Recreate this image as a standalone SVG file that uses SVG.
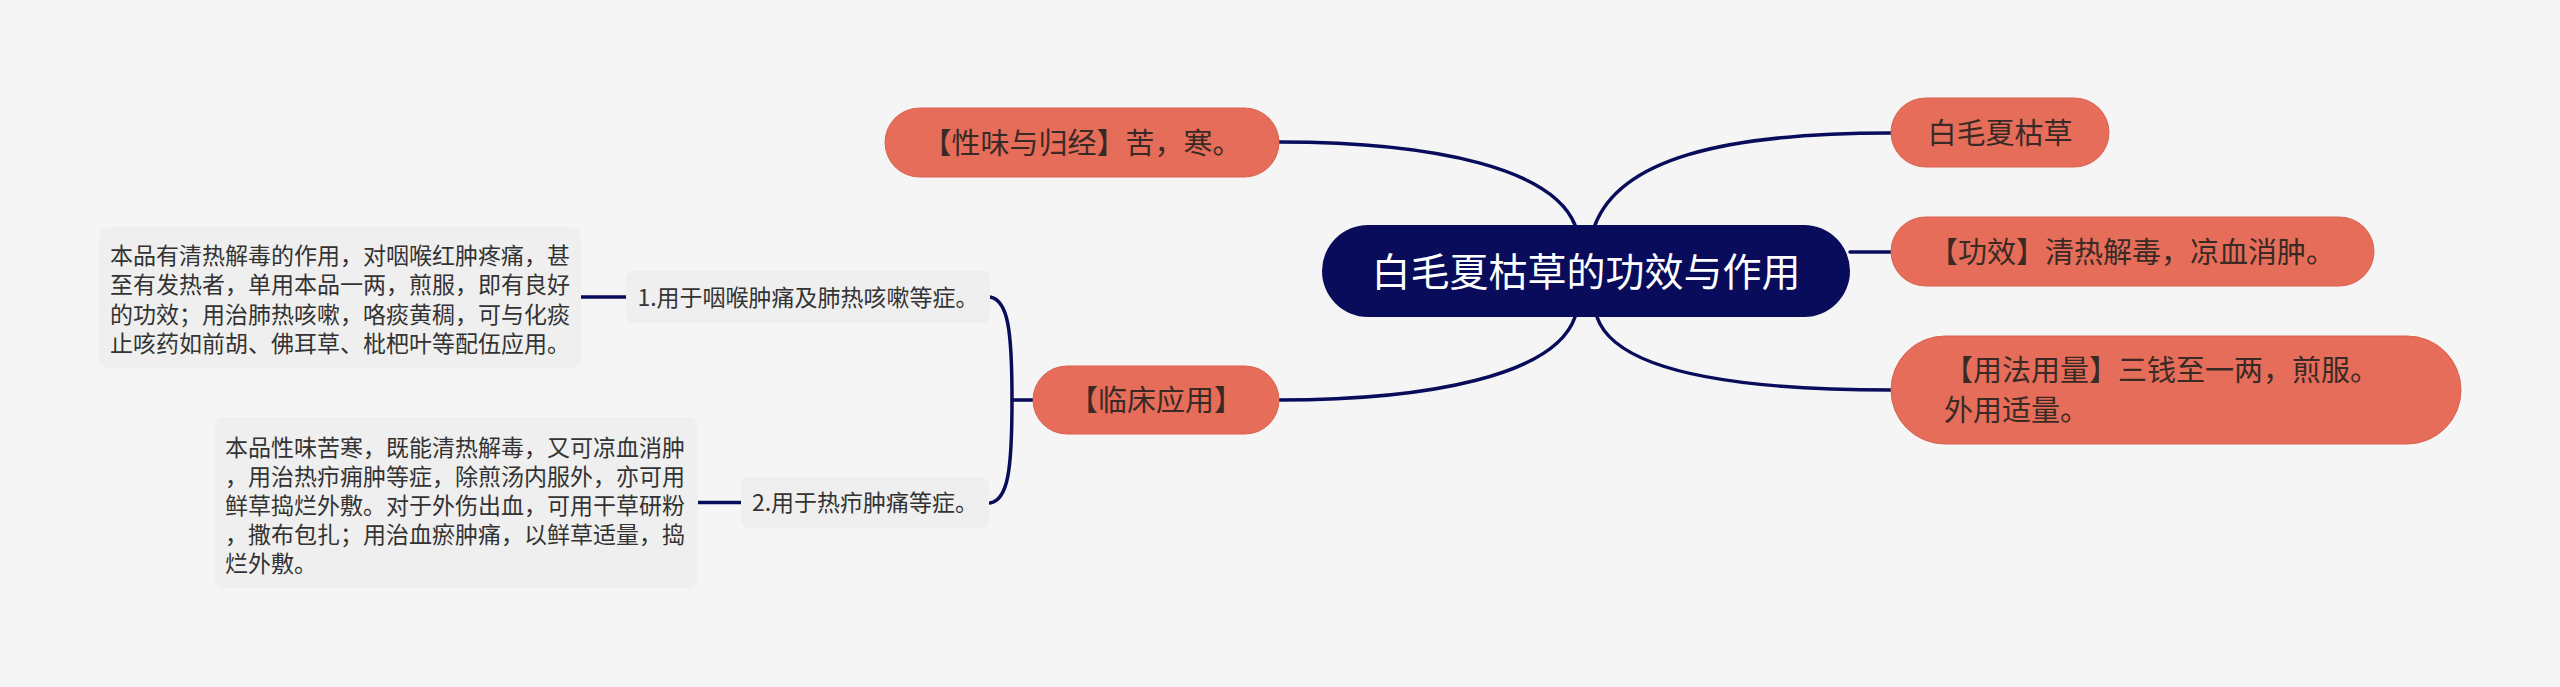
<svg xmlns="http://www.w3.org/2000/svg" width="2560" height="687" viewBox="0 0 2560 687">
<style>
.bg{fill:#f5f5f5}
.lk{fill:none;stroke:#080c5a;stroke-width:3.5;stroke-linecap:round}
.root{fill:#080c5a}
.l1{fill:#e56d59;stroke:#d9624e;stroke-width:1}
.box{fill:#efefef}
text{font-family:"Noto Sans CJK SC","Noto Sans",sans-serif}
.t0{font-size:39px;fill:#ffffff}
.t1{font-size:29px;fill:#3a2a26}
.t2{font-size:23px;fill:#333333}
</style>
<rect class="bg" x="0" y="0" width="2560" height="687"/>
<g id="connectors">
<path class="lk" d="M1575 225 C1553 170 1440 142 1279 142"/>
<path class="lk" d="M1595 225 C1620 160 1720 133 1891 133"/>
<path class="lk" d="M1850 252 L1891 252"/>
<path class="lk" d="M1597 317 C1615 370 1730 390 1891 390"/>
<path class="lk" d="M1575 317 C1555 375 1430 400 1279 400"/>
<path class="lk" d="M1033 400 L1012 400"/>
<path class="lk" d="M990 297 C1008 300 1012 330 1012 400 C1012 470 1008 500 990 503"/>
<path class="lk" d="M581 297 L626 297"/>
<path class="lk" d="M698 502.5 L741 502.5"/>
</g>
<g id="root">
<rect class="root" x="1322" y="225" width="528" height="92" rx="46"/>
<text class="t0" x="1586" y="285.8" text-anchor="middle">白毛夏枯草的功效与作用</text>
</g>
<g id="n-name">
<rect class="l1" x="1891" y="98" width="218" height="69" rx="34.5"/>
<text class="t1" x="2000" y="143.5" text-anchor="middle">白毛夏枯草</text>
</g>
<g id="n-effect">
<rect class="l1" x="1891" y="217" width="483" height="69" rx="34.5"/>
<text class="t1" x="2132" y="262.5" text-anchor="middle">【功效】清热解毒，凉血消肿。</text>
</g>
<g id="n-usage">
<rect class="l1" x="1891" y="336" width="570" height="108" rx="54"/>
<text class="t1" x="1944" y="381">【用法用量】三钱至一两，煎服。</text>
<text class="t1" x="1944" y="421">外用适量。</text>
</g>
<g id="n-nature">
<rect class="l1" x="885" y="108" width="394" height="69" rx="34.5"/>
<text class="t1" x="1082" y="153.5" text-anchor="middle">【性味与归经】苦，寒。</text>
</g>
<g id="n-clinical">
<rect class="l1" x="1033" y="366" width="246" height="68" rx="34"/>
<text class="t1" x="1156" y="411" text-anchor="middle">【临床应用】</text>
</g>
<g id="n-use1">
<rect class="box" x="626" y="271" width="364" height="52" rx="8"/>
<text class="t2" x="808" y="305.7" text-anchor="middle">1.用于咽喉肿痛及肺热咳嗽等症。</text>
</g>
<g id="n-use1-detail">
<rect class="box" x="99" y="227" width="482" height="141" rx="10"/>
<text class="t2" x="110" y="263.7">本品有清热解毒的作用，对咽喉红肿疼痛，甚</text>
<text class="t2" x="110" y="293.2">至有发热者，单用本品一两，煎服，即有良好</text>
<text class="t2" x="110" y="322.7">的功效；用治肺热咳嗽，咯痰黄稠，可与化痰</text>
<text class="t2" x="110" y="352.2">止咳药如前胡、佛耳草、枇杷叶等配伍应用。</text>
</g>
<g id="n-use2">
<rect class="box" x="741" y="477" width="248" height="51" rx="8"/>
<text class="t2" x="865" y="511.2" text-anchor="middle">2.用于热疖肿痛等症。</text>
</g>
<g id="n-use2-detail">
<rect class="box" x="214" y="417" width="484" height="171" rx="10"/>
<text class="t2" x="225" y="455.7">本品性味苦寒，既能清热解毒，又可凉血消肿</text>
<text class="t2" x="225" y="484.7">，用治热疖痈肿等症，除煎汤内服外，亦可用</text>
<text class="t2" x="225" y="513.7">鲜草捣烂外敷。对于外伤出血，可用干草研粉</text>
<text class="t2" x="225" y="542.7">，撒布包扎；用治血瘀肿痛，以鲜草适量，捣</text>
<text class="t2" x="225" y="571.7">烂外敷。</text>
</g>
</svg>
